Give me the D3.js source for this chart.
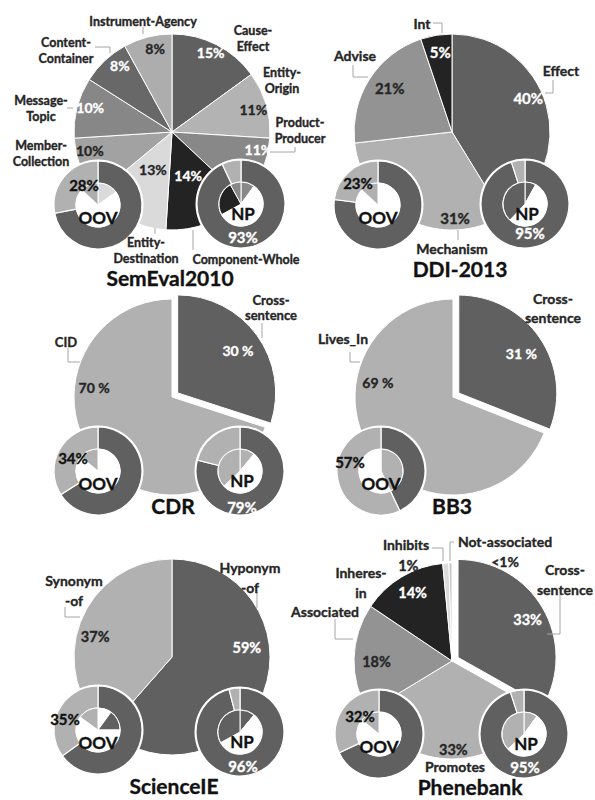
<!DOCTYPE html>
<html>
<head>
<meta charset="utf-8">
<script src="https://cdn.jsdelivr.net/npm/d3@7"></script>
<style>
  body { margin: 0; background: #fff; }
  text { font-family: Lato, "Open Sans", sans-serif; font-weight: 700; }
</style>
</head>
<body>
<div id="chart"></div>
<script>
// ---- data ----
const semevalLabels = [["Cause-", "Effect"], ["Entity-", "Origin"], ["Product-", "Producer"], ["Component-Whole"],
  ["Entity-", "Destination"], ["Member-", "Collection"], ["Message-", "Topic"], ["Content-", "Container"], ["Instrument-Agency"]];
const semevalValues = [15, 11, 11, 14, 13, 10, 10, 8, 8];
const semevalPct = ["15%", "11%", "11%", "14%", "13%", "10%", "10%", "8%", "8%"];
const semevalOov = [72, 28];
const semevalOovInner = [15, 72, 13];
const semevalNp = [93, 7];
const semevalNpInner = [10, 57, 25, 8];

const ddiLabels = [["Effect"], ["Mechanism"], ["Advise"], ["Int"]];
const ddiValues = [40, 31, 21, 5];
const ddiPct = ["40%", "31%", "21%", "5%"];
const ddiOov = [77, 23];
const ddiOovInner = [87, 13];
const ddiNp = [95, 5];
const ddiNpInner = [8, 54, 38];

const cdrLabels = [["Cross-", "sentence"], ["CID"]];
const cdrValues = [30, 70];
const cdrPct = ["30 %", "70 %"];
const cdrOov = [66, 34];
const cdrOovInner = [86, 14];
const cdrNp = [79, 21];
const cdrNpInner = [11, 52, 37];

const bb3Labels = [["Cross-", "sentence"], ["Lives_In"]];
const bb3Values = [31, 69];
const bb3Pct = ["31 %", "69 %"];
const bb3Oov = [43, 57];
const bb3OovInner = [43, 57];

const scieLabels = [["Hyponym", "-of"], ["Synonym", "-of"]];
const scieValues = [59, 37];
const sciePct = ["59%", "37%"];
const scieOov = [65, 35];
const scieOovInner = [10, 15, 60, 15];
const scieNp = [96, 4];
const scieNpInner = [11, 56, 33];

const pheLabels = [["Cross-", "sentence"], ["Promotes"], ["Associated"], ["Inheres-", "in"], ["Inhibits"], ["Not-associated", "<1%"]];
const pheValues = [33, 33, 18, 14, 1, 0.5];
const phePct = ["33%", "33%", "18%", "14%", "1%", ""];
const pheOov = [68, 32];
const pheOovInner = [86, 14];
const pheNp = [95, 5];
const pheNpInner = [10, 53, 37];

// ---- layout / style ----
const W = 595, H = 800;
const R = 98, RO = 44, RI = 22, EXPLODE = 7;
const DARK = "#606060", LIGHT = "#b1b1b1", BLACK = "#232323", VLIGHT = "#dadada", WHITE = "#ffffff";
const INK = "#262626";

const panels = [
  { title: "SemEval2010", cx: 172, cy: 132, titleAt: [-2, 145],
    labels: semevalLabels, values: semevalValues, pct: semevalPct, explode: -1, fs: 12.5, lh: 16, pfs: 14,
    colors: [DARK, "#b3b3b3", "#888888", BLACK, VLIGHT, "#a2a2a2", "#878787", "#686868", "#adadad"],
    pctColors: [WHITE, INK, WHITE, WHITE, INK, INK, WHITE, WHITE, INK],
    labelAt: [[81, -102], [110, -60], [128, -10], [74, 127], [-26, 110], [-131, 13], [-131, -32], [-106, -90], [-29, -111]],
    pctAt: [[.9, -1], [.86, 1], [.9, -12], [.47, 1], [.43, 0], [.86, 9], [.87, 2], [.86, 5], [.87, 3]],
    leaders: [null, null, [[98, 20], [123, 20], [123, 15]], [[21, 98], [21, 118]], [[-17, 96], [-17, 102]], null,
      [[-105, -24], [-99, -24]], [[-77, -85], [-62, -85], [-62, -79]], [[-29, -105], [-29, -98]]],
    oov: { ring: semevalOov, inner: semevalOovInner, innerColors: [VLIGHT, WHITE, "#adadad"], at: [-74, 73], textAt: [-14, -20] },
    np: { ring: semevalNp, inner: semevalNpInner, innerColors: ["#888888", WHITE, BLACK, "#888888"], at: [69, 72], textAt: [2, 33] } },
  { title: "DDI-2013", cx: 452, cy: 132, titleAt: [8, 136],
    labels: ddiLabels, values: ddiValues, pct: ddiPct, explode: -1, fs: 14, lh: 17, pfs: 15,
    colors: [DARK, LIGHT, "#939393", BLACK],
    pctColors: [WHITE, INK, INK, WHITE],
    labelAt: [[109, -62], [0, 116], [-97, -77], [-30, -109]],
    pctAt: [[.85, -8], [.88, -28], [.78, 3], [.83, 1]],
    leaders: [[[101, -52], [101, -39], [93, -39]], [[6, 98], [6, 108]], [[-99, -67], [-99, -55], [-84, -55]], [[-19, -109], [-10, -109], [-10, -99]]],
    oov: { ring: ddiOov, inner: ddiOovInner, innerColors: [WHITE, LIGHT], at: [-74, 73], textAt: [-20, -22] },
    np: { ring: ddiNp, inner: ddiNpInner, innerColors: [DARK, WHITE, DARK], at: [73, 72], textAt: [5, 29] } },
  { title: "CDR", cx: 172, cy: 397, titleAt: [1, 108],
    labels: cdrLabels, values: cdrValues, pct: cdrPct, explode: 0, fs: 13, lh: 15, pfs: 14,
    colors: [DARK, LIGHT], pctColors: [WHITE, INK],
    labelAt: [[99, -97], [-106, -55]],
    pctAt: [[.755, 0.6], [.8, 43]],
    leaders: [[[90, -74], [90, -59]], [[-104, -49], [-104, -35], [-92, -35]]],
    oov: { ring: cdrOov, inner: cdrOovInner, innerColors: [WHITE, LIGHT], at: [-74, 74], textAt: [-25, -13] },
    np: { ring: cdrNp, inner: cdrNpInner, innerColors: [LIGHT, WHITE, LIGHT], at: [68, 74], textAt: [2, 36] } },
  { title: "BB3", cx: 453, cy: 397, titleAt: [-1, 108],
    labels: bb3Labels, values: bb3Values, pct: bb3Pct, explode: 0, fs: 14, lh: 19, pfs: 14,
    colors: [DARK, LIGHT], pctColors: [WHITE, INK],
    labelAt: [[100, -99], [-110, -59]],
    pctAt: [[.755, 2], [.78, 45]],
    leaders: [[[75, -82], [75, -72]], [[-103, -45], [-103, -35], [-93, -35]]],
    oov: { ring: bb3Oov, inner: bb3OovInner, innerColors: [LIGHT, WHITE], at: [-72, 74], textAt: [-31, -9] },
    np: null },
  { title: "ScienceIE", cx: 172, cy: 657, titleAt: [2, 128],
    labels: scieLabels, values: scieValues, pct: sciePct, explode: -1, fs: 14, lh: 20, pfs: 14.5,
    colors: [DARK, LIGHT], pctColors: [WHITE, INK],
    labelAt: [[78, -90], [-98, -77]],
    pctAt: [[.77, -28], [.81, -6]],
    leaders: [[[85, -65], [85, -49]], [[-107, -50], [-107, -40], [-92, -40]]],
    oov: { ring: scieOov, inner: scieOovInner, innerColors: [WHITE, DARK, WHITE, LIGHT], at: [-74, 73], textAt: [-33, -11] },
    np: { ring: scieNp, inner: scieNpInner, innerColors: [DARK, WHITE, DARK], at: [68, 75], textAt: [3, 34] } },
  { title: "Phenebank", cx: 452, cy: 661, titleAt: [18, 125],
    labels: pheLabels, values: pheValues, pct: phePct, explode: 0, fs: 14, lh: 20, pfs: 14.5,
    colors: [DARK, LIGHT, "#939393", BLACK, VLIGHT, "#c8c8c8"],
    pctColors: [WHITE, INK, INK, WHITE, INK, INK],
    labelAt: [[113, -92], [3, 105], [-127, -50], [-91, -89], [-46, -117], [53, -120]],
    pctAt: [[.81, 1.5], [.9, 0], [.77, -2], [.81, 1], [1.07, -21], [0, 0]],
    leaders: [[[108, -67], [108, -27], [95, -27]], null, [[-117, -42], [-117, -22], [-99, -22]], null,
      [[-20, -113], [-9, -113], [-9, -100]], [[2, -119], [-2, -119], [-2, -100]]],
    oov: { ring: pheOov, inner: pheOovInner, innerColors: [WHITE, LIGHT], at: [-73, 73], textAt: [-19, -18] },
    np: { ring: pheNp, inner: pheNpInner, innerColors: [LIGHT, WHITE, LIGHT], at: [72, 73], textAt: [1, 33] } }
];

// ---- drawing ----
const svg = d3.select("#chart").append("svg")
  .attr("width", W).attr("height", H)
  .style("background", "#fff");

const pie = d3.pie().sort(null).value(d => d);
const arc = d3.arc().innerRadius(0).outerRadius(R);
const ringArc = d3.arc().innerRadius(RI).outerRadius(RO);
const innerArc = d3.arc().innerRadius(0).outerRadius(RI);
const polar = (a, r) => [r * Math.sin(a), -r * Math.cos(a)];
const line = d3.line();

function drawDonut(g, dn, name, isOov) {
  const dg = g.append("g").attr("transform", `translate(${dn.at[0]},${dn.at[1]})`);
  dg.append("circle").attr("r", RO + 1.5).attr("fill", "#fff");
  dg.selectAll("path.ring").data(pie(dn.ring)).join("path")
    .attr("class", "ring")
    .attr("d", ringArc)
    .attr("fill", (d, i) => i === 0 ? DARK : LIGHT)
    .attr("stroke", "#fff").attr("stroke-width", 1.2);
  dg.selectAll("path.inner").data(pie(dn.inner)).join("path")
    .attr("class", "inner")
    .attr("d", innerArc)
    .attr("fill", (d, i) => dn.innerColors[i])
    .attr("stroke", "#fff").attr("stroke-width", 1);
  dg.append("text")
    .attr("x", isOov ? 0 : 2).attr("y", isOov ? 12 : 9)
    .attr("text-anchor", "middle").attr("dominant-baseline", "central")
    .attr("font-size", 17).attr("fill", "#111")
    .text(name);
  dg.append("text")
    .attr("x", dn.textAt[0]).attr("y", dn.textAt[1])
    .attr("text-anchor", "middle").attr("dominant-baseline", "central")
    .attr("font-size", 15).attr("fill", isOov ? "#111" : "#fff")
    .text(isOov ? `${dn.ring[1]}%` : `${dn.ring[0]}%`);
}

panels.forEach(p => {
  const g = svg.append("g").attr("transform", `translate(${p.cx},${p.cy})`);
  const slices = pie(p.values);
  const mid = d => (d.startAngle + d.endAngle) / 2;
  const off = d => d.index === p.explode ? polar(mid(d), EXPLODE) : [0, 0];

  g.selectAll("path.slice").data(slices).join("path")
    .attr("class", "slice")
    .attr("transform", d => `translate(${off(d)})`)
    .attr("d", arc)
    .attr("fill", (d, i) => p.colors[i])
    .attr("stroke", "#fff").attr("stroke-width", 1);

  if (p.oov) drawDonut(g, p.oov, "OOV", true);
  if (p.np) drawDonut(g, p.np, "NP", false);

  // percentages inside slices
  g.selectAll("text.pct").data(slices.filter((d, i) => p.pct[i] !== "")).join("text")
    .attr("class", "pct")
    .attr("transform", d => {
      const [f, s] = p.pctAt[d.index];
      const o = off(d);
      const [x, y] = polar(mid(d) + s * Math.PI / 180, f * R);
      return `translate(${x + o[0]},${y + o[1]})`;
    })
    .attr("text-anchor", "middle").attr("dominant-baseline", "central")
    .attr("font-size", p.pfs)
    .attr("fill", d => p.pctColors[d.index])
    .text(d => p.pct[d.index]);

  // leader lines
  p.leaders.forEach(pts => {
    if (!pts) return;
    g.append("path").attr("d", line(pts))
      .attr("fill", "none").attr("stroke", "#a6a6a6").attr("stroke-width", 1);
  });

  // category labels
  p.labels.forEach((lines, i) => {
    const t = g.append("text")
      .attr("text-anchor", "middle").attr("dominant-baseline", "central")
      .attr("font-size", p.fs).attr("fill", INK);
    lines.forEach((ln, j) => {
      t.append("tspan")
        .attr("x", p.labelAt[i][0]).attr("y", p.labelAt[i][1] + j * p.lh)
        .text(ln);
    });
  });

  g.append("text")
    .attr("x", p.titleAt[0]).attr("y", p.titleAt[1])
    .attr("text-anchor", "middle").attr("dominant-baseline", "central")
    .attr("font-size", 21).attr("fill", "#111")
    .text(p.title);
});

// slightly heavier glyphs, like the original's bold face
svg.selectAll("text").each(function () {
  const t = d3.select(this);
  t.attr("stroke", t.attr("fill")).attr("stroke-width", 0.35);
});
</script>
</body>
</html>
